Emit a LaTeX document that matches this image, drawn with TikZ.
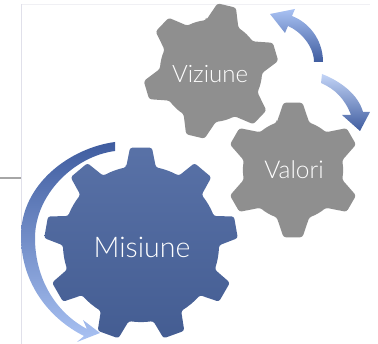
\documentclass[tikz,border=0pt]{standalone}
\usepackage{fontspec}
\setmainfont{Lato}[UprightFont=* Light]
\usetikzlibrary{calc}
\definecolor{gearblue}{HTML}{4A659F}
\definecolor{geargrey}{HTML}{8F8F8F}
\definecolor{arrowdark}{HTML}{3F5C9F}
\definecolor{arrowlight}{HTML}{A9C2F3}
\tikzset{
  gearlabel/.style={text=white, inner sep=0pt},
  bluegear/.style={top color=gearblue!92!white, bottom color=gearblue!92!black, draw=none, rounded corners=2.5pt},
  greygear/.style={fill=geargrey, draw=none, rounded corners=2.5pt},
  frameline/.style={line width=0.8pt}
}
% gear: centre, outer radius, root radius, first tooth, number of teeth, half widths at tip and root
\newcommand{\GearPath}[7]{
  (#1) ++(#4+#7:#3)
  \foreach \k in {1,...,#5} {
    arc[start angle=#4+#7+(\k-1)*360/#5, end angle=#4-#7+\k*360/#5, radius=#3]
    -- ($(#1)+(#4-#6+\k*360/#5:#2)$)
    -- ($(#1)+(#4+#6+\k*360/#5:#2)$)
    -- ($(#1)+(#4+#7+\k*360/#5:#3)$)
  } -- cycle
}
\begin{document}
\begin{tikzpicture}[x=1pt, y=1pt]
  \useasboundingbox (0,0) rectangle (378,344);
  \coordinate (misc) at (141,100);
  \coordinate (vizc) at (211,273);
  \coordinate (valc) at (293,174);

  % frame lines
  \coordinate (fa) at (21.5,0);
  \coordinate (fb) at (21.5,166);
  \coordinate (fc) at (0,166);
  \coordinate (fd) at (21.5,339.5);
  \coordinate (fe) at (370,339.5);
  \draw[frameline, line width=1.5pt, color=black!35] (fc) -- (fb);
  \draw[frameline, color=blue!30!black!12] (fa) -- (fd);
  \draw[frameline, color=blue!30!black!6] (fd) -- (fe);

  % gears
  \path[greygear] \GearPath{vizc}{68}{51}{76.5}{6}{8}{19};
  \path[greygear] \GearPath{valc}{68}{50}{90}{6}{8}{19};
  \path[bluegear] \GearPath{misc}{97}{78}{90}{9}{6.5}{11};

  \node[gearlabel, font=\fontsize{24}{24}\selectfont] (viziune) at (210,270) {Viziune};
  \node[gearlabel, font=\fontsize{24.5}{24}\selectfont] (valori) at (294,174) {Valori};
  \node[gearlabel, font=\fontsize{28.5}{28}\selectfont] (misiune) at (142,97) {Misiune};

  % curved arrows
  \path[top color=arrowdark, bottom color=arrowlight, draw=none]
    (115,202) .. controls (70,196) and (21,160) .. (21,108)
    .. controls (21,60) and (50,25) .. (84,8)
    -- (77,2) -- (100,11) -- (83,24) -- (87,15)
    .. controls (55,32) and (35,66) .. (35,106)
    .. controls (35,150) and (75,188) .. (115,193) -- cycle;
  \path[top color=arrowlight, bottom color=arrowdark, draw=none]
    (323,282) .. controls (323,305) and (308,322) .. (292,328)
    -- (295,335) -- (270,330) -- (285,311) -- (288,318)
    .. controls (300,313) and (314,298) .. (314,282) -- cycle;
  \path[top color=arrowlight!70!white, bottom color=arrowdark, draw=none]
    (322,270) .. controls (340,263) and (358,250) .. (363,232)
    -- (370,232) -- (360,213) -- (342,229) -- (351,229)
    .. controls (345,245) and (335,255) .. (321,261) -- cycle;
\end{tikzpicture}
\end{document}
